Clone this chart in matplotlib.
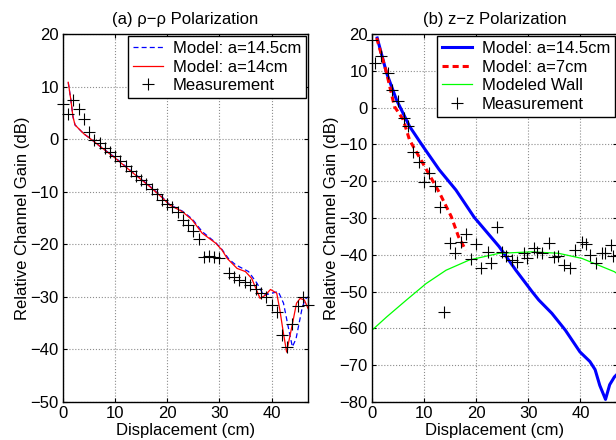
import matplotlib
matplotlib.use("Agg")
import matplotlib.pyplot as plt

plt.rcParams["font.family"] = ["Liberation Sans", "DejaVu Sans"]
plt.rcParams["font.size"] = 12

# ---- (a) rho-rho polarization ----
a_meas_x = [0, 1, 2, 3, 4, 5, 6, 7, 8, 9, 10, 11, 12, 13, 14, 15, 16, 17, 18,
            19, 20, 21, 22, 23, 24, 25, 26, 27, 28, 29, 30, 31.8, 32.8, 33.7,
            34.9, 35.9, 37, 38, 39, 40, 41, 42, 43, 44, 45, 46, 47]
a_meas_y = [6.7, 4.8, 7.5, 5.7, 3.8, 1.3, -0.1, -0.7, -1.6, -2.4, -3.3, -4.2,
            -5.1, -6.0, -7.0, -7.8, -8.6, -9.5, -10.5, -11.5, -12.3, -13.0,
            -13.9, -15.3, -16.3, -17.5, -19.0, -22.4, -22.3, -22.4, -22.7,
            -25.5, -26.2, -26.8, -27.1, -27.8, -28.5, -29.3, -30.0, -31.6,
            -32.8, -37.2, -39.5, -35.2, -31.8, -30.0, -31.6]

a_m14_x = [1.0, 1.5, 1.9, 2.3, 3.2, 4.0, 5.1, 7, 10, 13, 16.6, 19.1, 20.4,
           22.9, 24.8, 26.7, 29.3, 30.5, 31.5, 33.4, 35.0, 36.2, 37.8, 38.8,
           39.8, 41.0, 41.6, 42.3, 42.9, 43.9, 44.8, 45.5, 46.3, 47.0]
a_m14_y = [10.8, 7.5, 4.3, 2.7, 1.8, 1.0, 0.2, -1.3, -3.6, -6.1, -9.0, -11.2,
           -12.5, -13.8, -15.4, -17.9, -19.8, -21.1, -22.7, -24.6, -25.2,
           -26.5, -30.3, -29.7, -28.6, -29.3, -32.5, -37.0, -40.5, -35.7,
           -31.2, -30.3, -30.6, -32.2]

a_m145_x = [1.0, 1.5, 1.9, 2.3, 3.2, 4.0, 5.1, 7, 10, 13, 16.6, 19.1, 20.4,
            22.9, 24.8, 26.7, 29.3, 30.5, 31.8, 33.1, 35.6, 37.2, 38.5, 40.1,
            41.3, 42.3, 43.2, 44.0, 44.7, 45.3, 45.8, 46.4, 47.0]
a_m145_y = [10.8, 7.5, 4.3, 2.7, 1.8, 1.0, 0.2, -1.3, -3.5, -6.0, -8.9, -11.1,
            -12.4, -13.7, -15.2, -17.6, -19.7, -21.0, -22.8, -23.9, -25.2,
            -27.4, -29.7, -29.3, -29.0, -31.2, -35.7, -39.5, -38.0, -35.0,
            -32.5, -30.5, -30.0]

# ---- (b) z-z polarization ----
b_meas_x = [0, 0.6, 1.8, 3.1, 3.9, 5.0, 6.1, 6.9, 7.9, 9.0, 9.9, 11.0, 12.0,
            13.0, 13.9, 15.0, 16.0, 17.1, 18.0, 19.0, 19.9, 20.9, 22.2, 22.8,
            23.9, 25.0, 25.8, 26.8, 27.9, 29.1, 29.8, 31.0, 31.7, 32.6, 33.9,
            34.9, 35.7, 36.8, 38.0, 39.0, 40.3, 41.0, 41.8, 42.9, 44.1, 44.7,
            45.9, 46.3]
b_meas_y = [18.4, 12.1, 13.9, 9.4, 4.8, 1.7, -2.9, -5.1, -12.0, -14.7, -20.1,
            -17.8, -21.3, -26.9, -55.5, -36.7, -39.6, -36.4, -34.4, -41.2,
            -37.2, -43.7, -39.2, -42.3, -32.4, -39.2, -40.4, -41.5, -41.9,
            -39.6, -41.0, -38.2, -39.2, -39.4, -36.9, -40.5, -40.4, -42.8,
            -43.7, -38.7, -36.4, -37.1, -40.1, -42.2, -39.6, -39.4, -37.3,
            -40.4]

b_m145_x = [1.0, 2.8, 4.7, 7.2, 9.8, 12.9, 16.1, 19.6, 24.4, 27.6, 30.7, 32.0,
            34.5, 37.1, 39.9, 41.8, 42.8, 43.7, 44.8, 45.6, 46.5, 47.0]
b_m145_y = [18.9, 9.4, 2.1, -5.1, -10.6, -16.9, -22.4, -29.8, -37.8, -44.2,
            -50.0, -52.3, -55.9, -60.5, -66.4, -69.0, -71.2, -75.5, -79.3,
            -75.3, -73.2, -72.5]

b_m7_x = [0.9, 2.8, 4.3, 6.0, 7.2, 10.1, 13.0, 15.2, 16.6, 18.0]
b_m7_y = [18.9, 9.4, 0.3, -3.3, -8.8, -16.0, -23.3, -29.6, -35.1, -38.8]

b_wall_x = [0, 2.8, 6.6, 10.4, 14.2, 18.7, 24.4, 30.7, 35.8, 40.3, 46.5, 47.0]
b_wall_y = [-60.5, -56.9, -52.3, -47.8, -44.2, -41.4, -39.6, -39.2, -39.6,
            -41.0, -44.6, -45.1]

xticks = [0, 10, 20, 30, 40]


def style_axes(ax, ylim, title):
    ax.set_xlim(0, 47)
    ax.set_ylim(*ylim)
    ax.set_xticks(xticks)
    ax.set_yticks(range(ylim[0], ylim[1] + 1, 10))
    ax.grid(True, linestyle=":", color="0.55", linewidth=0.8)
    ax.tick_params(direction="in", length=3, top=True, right=True, labelsize=12,
                   pad=3)
    for s in ax.spines.values():
        s.set_linewidth(1.0)
    ax.set_title(title, fontsize=12, pad=7)
    ax.set_xlabel("Displacement (cm)", fontsize=12, labelpad=1)
    ax.set_ylabel("Relative Channel Gain (dB)", fontsize=12, labelpad=0)


def add_legend(ax):
    leg = ax.legend(loc="upper right", fontsize=12, fancybox=False,
                    framealpha=1, edgecolor="black", borderpad=0.3,
                    labelspacing=0.22, handlelength=1.75, handletextpad=0.6,
                    borderaxespad=0.12)
    leg.get_frame().set_linewidth(1.0)


def main():
    fig = plt.figure(figsize=(6.16, 4.40), dpi=100)

    ax1 = fig.add_axes([0.1023, 0.0864, 0.3977, 0.8364])
    ax1.plot(a_m145_x, a_m145_y, "--", color="blue", linewidth=0.9,
             dashes=(4, 2.5), label="Model: a=14.5cm")
    ax1.plot(a_m14_x, a_m14_y, "-", color="red", linewidth=0.9,
             label="Model: a=14cm")
    ax1.plot(a_meas_x, a_meas_y, "+", color="black", markersize=8,
             markeredgewidth=0.8, clip_on=False, label="Measurement")
    style_axes(ax1, (-50, 20), "(a) \u03c1\u2212\u03c1 Polarization")
    add_legend(ax1)

    ax2 = fig.add_axes([0.6039, 0.0864, 0.3977, 0.8364])
    ax2.plot(b_m145_x, b_m145_y, "-", color="blue", linewidth=2.2,
             label="Model: a=14.5cm")
    ax2.plot(b_m7_x, b_m7_y, "--", color="red", linewidth=2.2,
             dashes=(2, 1.3), label="Model: a=7cm")
    ax2.plot(b_wall_x, b_wall_y, "-", color="#00ff00", linewidth=0.9,
             label="Modeled Wall")
    ax2.plot(b_meas_x, b_meas_y, "+", color="black", markersize=8,
             markeredgewidth=0.8, clip_on=False, label="Measurement")
    style_axes(ax2, (-80, 20), "(b) z\u2212z Polarization")
    add_legend(ax2)

    fig.savefig("out.png", dpi=100)


if __name__ == "__main__":
    main()
